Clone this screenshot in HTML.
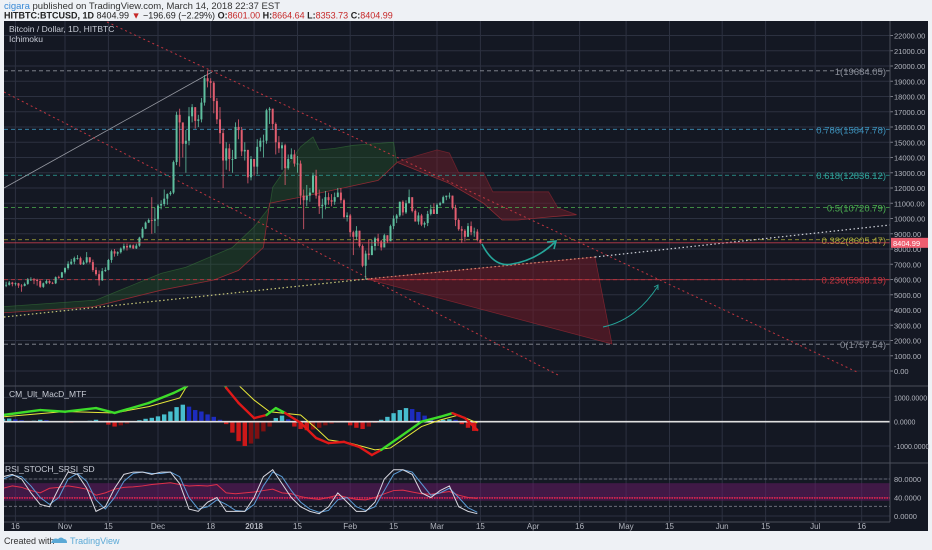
<!DOCTYPE html>
<html><head><meta charset="utf-8"><style>
html,body{margin:0;padding:0;background:#eef1f5;}
svg{display:block;font-family:"Liberation Sans",sans-serif;}
</style></head><body>
<svg id="c" width="932" height="550" viewBox="0 0 932 550" xmlns="http://www.w3.org/2000/svg">
<rect x="0" y="0" width="932" height="550" fill="#eef1f5"/>
<text x="4" y="9" font-size="9.5" fill="#333"><tspan fill="#3a8ad6">cigara</tspan> published on TradingView.com, March 14, 2018 22:37 EST</text>
<text x="4" y="18.5" font-size="9" fill="#222" font-weight="bold">HITBTC:BTCUSD, 1D <tspan font-weight="normal">8404.99</tspan> <tspan fill="#c62828">▼</tspan> <tspan font-weight="normal">−196.69 (−2.29%)</tspan> O:<tspan fill="#c62828" font-weight="normal">8601.00</tspan> H:<tspan fill="#c62828" font-weight="normal">8664.64</tspan> L:<tspan fill="#c62828" font-weight="normal">8353.73</tspan> C:<tspan fill="#c62828" font-weight="normal">8404.99</tspan></text>
<rect x="4" y="21" width="924" height="510" fill="#141823"/>
<g id="grid"></g>
<g id="main"></g>
<g id="macd"></g>
<g id="rsi"></g>
<g id="axes"></g>
<text x="9" y="32" font-size="8.5" fill="#c8ccd6">Bitcoin / Dollar, 1D, HITBTC</text>
<text x="9" y="42" font-size="8.5" fill="#c8ccd6">Ichimoku</text>
<text x="9" y="397" font-size="8.5" fill="#c8ccd6">CM_Ult_MacD_MTF</text>
<text x="5" y="472" font-size="8.5" fill="#c8ccd6">RSI_STOCH_SRSI_SD</text>
<text x="4" y="544" font-size="9" fill="#333">Created with</text>
<g><path d="M51 543 q2 -6 7 -4 q3 -3 6 0 q3 0 3 4 z" fill="#5aa9d6"/><text x="70" y="544" font-size="9" fill="#5aa9d6">TradingView</text></g>
</svg>
<script>
// ---------- DATA ----------
const firstDay = -19; // Oct 13, 2017 relative to Nov 1
const closes = [5650,5800,5700,5750,5600,5580,5710,6000,6000,5980,5900,5520,5750,5900,5780,5750,6150,6130,6470,
6750,7030,7170,7400,7400,7000,7120,7460,7140,6620,6350,5950,6550,6630,7280,7850,7700,7790,8030,8200,8100,8240,8040,8220,8750,9330,9730,9900,9850,9950,
10850,10950,11300,11600,11700,13700,16800,16300,14900,15100,16700,17300,16400,16500,17600,19200,19000,18900,17700,16500,15600,13800,14600,13900,13900,16000,15800,14400,14500,12700,13900,
13400,14700,15100,15100,17100,17200,16200,15000,14600,14800,13300,13900,14200,13600,13600,11500,11200,11500,11700,12800,11500,10800,10900,11400,11200,11100,11400,11700,11200,10100,10200,
9100,8800,9200,8200,6900,7700,7600,8200,8700,8500,8100,8900,8500,9500,10000,10200,11100,10400,11000,11400,10500,9800,10200,9600,9700,10300,10600,10300,
10900,11000,11400,11500,11500,10700,9900,9300,9200,8800,9500,9100,9140,8601,8405];
const highs = [5850,5900,5850,5800,5780,5700,5800,6100,6150,6100,6050,5950,5800,6000,5950,5850,6200,6250,6500,
6800,7200,7350,7500,7600,7500,7250,7800,7450,7300,6800,6600,6750,6800,7350,7950,8000,7850,8100,8350,8350,8300,8300,8350,8800,9450,9800,10000,11400,10700,
10950,11200,11900,11650,11800,13800,17000,17200,16300,15800,17300,17500,17300,16800,17900,19400,19700,19200,19000,17900,17300,15900,15000,14900,14500,16300,16500,16000,15000,14500,14100,
13900,15200,15300,15500,17200,17300,17200,16300,15400,15000,14900,14200,14600,14500,14100,13800,11900,12200,12000,13000,13200,11900,11300,11800,11700,11600,11700,12000,12000,11300,10400,
10300,9200,9500,9200,8300,7900,8600,8600,8800,9000,8600,9000,8900,9600,10200,10300,11100,11200,11200,11900,11300,10600,10400,10300,9800,10500,10900,11000,
11000,11100,11500,11500,11700,11500,10900,10000,9500,9300,9700,9800,9400,9300,8665];
const lows = [5500,5600,5550,5600,5450,5200,5550,5650,5900,5700,5600,5450,5450,5700,5700,5700,5700,6050,6100,
6380,6650,6950,7000,7300,6950,6950,7050,7050,6500,6250,5600,5900,6500,6600,7100,7500,7550,7700,7900,7900,8050,8000,8000,8150,8700,9300,9700,9000,9050,
9500,10600,10800,10900,11500,11600,13500,13400,14000,13000,14800,16300,15900,16000,16300,17400,18600,17900,16900,16200,14900,12000,13200,13100,13000,13900,15200,14100,13800,12300,12500,
12800,12900,14400,14000,14900,16200,15800,14200,14300,13200,12200,13200,13900,13400,13000,10900,9300,10800,11100,11700,11300,10300,10000,10600,10900,10800,10900,11400,11000,10000,9800,
8800,7600,8600,8100,6800,6000,7300,7600,7900,8200,7900,8100,8400,8600,9300,9700,10100,10200,10300,11000,10400,9800,9600,9500,9400,9500,10200,10300,
10300,10800,11000,11200,11300,10600,9500,9200,8400,8500,8800,8900,8800,8500,8354];

const cloudGreenUpDays = [-21,10,31,39,54,61,66,67,76,80,82,87,93,106,107];
const cloudGreenUpVals = [4200,4650,6400,6800,8100,9450,10750,12050,14700,15350,14500,14600,14800,15000,13650];
const cloudGreenLoDays = [-21,9,31,48,56,64,66,76,101,107];
const cloudGreenLoVals = [3800,4200,5300,5970,6600,8100,11000,11400,12500,13650];
const cloudRedUpDays = [107,114,120,124,127,135,138,156,159,165];
const cloudRedUpVals = [13700,14150,14500,14300,13000,13000,11750,11750,10700,10250];
const cloudRedLoDays = [107,124,135,141,146,156,165];
const cloudRedLoVals = [13700,12300,11000,9900,9900,10100,10250];

const fibRatios = ["1","0.786","0.618","0.5","0.382","0.236","0"];
const fibPrices = [19684.05,15847.78,12836.12,10720.79,8605.47,5988.19,1757.54];
const fibColors = ["#8a8e99","#3d8fb8","#2fa39a","#4caf50","#a8a83a","#c0353f","#8a8e99"];

const priceTicks = [0,1000,2000,3000,4000,5000,6000,7000,8000,9000,10000,11000,12000,13000,14000,15000,16000,17000,18000,19000,20000,21000,22000];
const timeTickDays = [-16,0,14,30,47,61,75,92,106,120,134,151,166,181,195,212,226,242,257];
const timeTickLabels = ["16","Nov","15","Dec","18","2018","15","Feb","15","Mar","15","Apr","16","May","15","Jun","15","Jul","16"];

const macdDays = [-20,-8,0,10,16,27,35,39,44,47,52,56,61,65,68,71,76,81,85,90,95,99,102,108,115,121,125,129,133];
const macdVals = [275,480,410,560,360,770,1180,1430,2600,2800,1390,770,150,275,560,360,-50,-670,-880,-830,-1040,-1370,-1160,-630,0,200,350,150,-340];
const signalDays = [-20,0,16,27,37,39,48,56,61,66,76,81,85,92,100,105,115,121,127,133];
const signalVals = [200,420,360,620,975,1400,2200,1500,890,410,275,-270,-750,-880,-1160,-1080,-200,70,275,-50];
const histStart = -20, histStep = 2;
const histVals = [120,130,100,60,20,40,80,60,30,20,-20,-40,-20,-10,40,80,20,-120,-200,-150,-80,20,60,120,160,220,300,420,600,700,620,480,420,300,200,80,-100,-450,-800,-1000,-900,-700,-400,-200,150,250,100,-200,-300,-350,-320,-250,-150,-80,-40,30,-150,-250,-300,-200,-50,80,200,350,480,560,520,400,250,120,40,80,100,80,-100,-250,-380];
const macdTicks = [1000,0,-1000];
const macdTickLabels = ["1000.0000","0.0000","-1000.0000"];

const oscStart = -20, oscStep = 3;
const stochK = [85,90,80,50,25,20,60,95,90,60,10,20,60,90,95,95,90,95,95,70,15,10,30,40,10,10,10,40,85,100,70,40,20,10,5,20,50,30,10,10,30,80,100,100,90,50,40,55,65,20,10,5];
const stochD = [80,88,85,65,40,25,40,80,92,75,35,15,40,75,92,95,92,92,95,85,40,15,20,35,25,12,10,25,65,95,85,55,30,15,8,12,35,40,20,12,20,55,90,100,95,70,45,50,60,40,18,8];
const rsiVals = [60,65,62,55,50,60,62,65,62,58,45,50,58,62,63,65,68,70,72,68,65,66,65,68,50,48,50,52,55,58,50,48,42,38,36,40,45,40,36,35,40,48,55,56,52,48,47,50,53,45,40,38];
const oscTicks = [80,40,0];
const oscTickLabels = ["80.0000","40.0000","0.0000"];

// ---------- SCALES ----------
const NS = "http://www.w3.org/2000/svg";
const X0 = 65, PXD = 3.1, LEFT = 4, AXX = 890, RIGHT = 928;
function xd(d){return X0 + d*PXD;}
function yp(p){return 371 - p*0.01525;}
function ym(v){return 421.7 - v*0.0243;}
function yr(v){return 516 - v*0.4625;}
function mk(tag, attrs, parent){const e=document.createElementNS(NS,tag);for(const k in attrs)e.setAttribute(k,attrs[k]);parent.appendChild(e);return e;}
function interp(days, vals, d){
  if(d<=days[0])return vals[0];
  for(let i=1;i<days.length;i++){if(d<=days[i]){const t=(d-days[i-1])/(days[i]-days[i-1]);return vals[i-1]+t*(vals[i]-vals[i-1]);}}
  return vals[vals.length-1];
}
const svg = document.getElementById('c');
const grid = document.getElementById('grid');
const main = document.getElementById('main');
const macdG = document.getElementById('macd');
const rsiG = document.getElementById('rsi');
const axes = document.getElementById('axes');

const defs = mk('defs',{},svg);
const cpM = mk('clipPath',{id:'clipMain'},defs); mk('rect',{x:LEFT,y:21,width:AXX-LEFT,height:365},cpM);
const cpD = mk('clipPath',{id:'clipMacd'},defs); mk('rect',{x:LEFT,y:386,width:AXX-LEFT,height:77},cpD);
const cpR = mk('clipPath',{id:'clipRsi'},defs); mk('rect',{x:LEFT,y:463,width:AXX-LEFT,height:59},cpR);
main.setAttribute('clip-path','url(#clipMain)');
macdG.setAttribute('clip-path','url(#clipMacd)');
rsiG.setAttribute('clip-path','url(#clipRsi)');

// ---------- GRID ----------
timeTickDays.forEach((d,i)=>{
  const l = mk('line',{x1:xd(d),x2:xd(d),y1:21,y2:522,stroke:'#2c3140','stroke-width':1},grid);
  
  
  const t = mk('text',{x:xd(d),y:529,'font-size':8,fill:'#b2b5be','text-anchor':'middle'},axes);
  if(timeTickLabels[i]==='2018')t.setAttribute('font-weight','bold');
  t.textContent = timeTickLabels[i];
  
  
});
priceTicks.forEach(p=>{
  const l = mk('line',{x1:LEFT,x2:AXX,y1:yp(p),y2:yp(p),stroke:'#2c3140','stroke-width':1},grid);
  
  
  const tk = mk('line',{x1:AXX,x2:AXX+3,y1:yp(p),y2:yp(p),stroke:'#787b86'},axes);
  
  
  const t = mk('text',{x:AXX+4,y:yp(p)+3,'font-size':7.5,fill:'#b2b5be'},axes);
  t.textContent = p.toFixed(2);
  
  
});
macdTicks.forEach((v,i)=>{
  const l = mk('line',{x1:LEFT,x2:AXX,y1:ym(v),y2:ym(v),stroke:'#2c3140'},grid);
  
  
  const t = mk('text',{x:AXX+4,y:ym(v)+3,'font-size':7,fill:'#b2b5be'},axes);
  t.textContent = macdTickLabels[i];
  
  
});
oscTicks.forEach((v,i)=>{
  const l = mk('line',{x1:LEFT,x2:AXX,y1:yr(v),y2:yr(v),stroke:'#2c3140'},grid);
  
  
  const t = mk('text',{x:AXX+4,y:yr(v)+3,'font-size':7.5,fill:'#b2b5be'},axes);
  t.textContent = oscTickLabels[i];
  
  
});
[[LEFT,386,RIGHT,386],[LEFT,463,RIGHT,463],[LEFT,522,AXX,522],[AXX,21,AXX,522]].forEach(s=>{
  const l = mk('line',{x1:s[0],y1:s[1],x2:s[2],y2:s[3],stroke:'#4a4e5a','stroke-width':1},axes);
  
  
});

// ---------- MAIN PANE ----------
function cloud(upD,upV,loD,loV,fill,stroke,name){
  let pts = upD.map((d,i)=>xd(d)+','+yp(upV[i]));
  for(let i=loD.length-1;i>=0;i--)pts.push(xd(loD[i])+','+yp(loV[i]));
  const p = mk('polygon',{points:pts.join(' '),fill:fill,stroke:'none'},main);
  
  
  const a = mk('polyline',{points:upD.map((d,i)=>xd(d)+','+yp(upV[i])).join(' '),fill:'none',stroke:stroke,'stroke-width':0.8},main);
  
  
  const b = mk('polyline',{points:loD.map((d,i)=>xd(d)+','+yp(loV[i])).join(' '),fill:'none',stroke:'#8e2a33','stroke-width':0.8},main);
  
  
}
cloud(cloudGreenUpDays,cloudGreenUpVals,cloudGreenLoDays,cloudGreenLoVals,'rgba(40,100,45,0.32)','rgba(60,130,60,0.5)','ichimoku-cloud-green');
cloud(cloudRedUpDays,cloudRedUpVals,cloudRedLoDays,cloudRedLoVals,'rgba(120,30,42,0.45)','rgba(150,40,50,0.6)','ichimoku-cloud-red');

let tri = mk('polygon',{points:'367,279 595,257 612,344',fill:'rgba(115,28,40,0.55)',stroke:'rgba(170,45,55,0.6)','stroke-width':0.7},main);



fibPrices.forEach((p,i)=>{
  const l = mk('line',{x1:LEFT,x2:AXX,y1:yp(p),y2:yp(p),stroke:fibColors[i],'stroke-width':0.8,'stroke-dasharray':'4,3'},main);
  
  
  const t = mk('text',{x:AXX-4,y:yp(p)+4,'font-size':9.5,fill:fibColors[i],'text-anchor':'end'},main);
  t.textContent = fibRatios[i]+'('+p.toFixed(2)+')';
  
  
});
let r236 = mk('line',{x1:367,x2:AXX,y1:yp(5988.19),y2:yp(5988.19),stroke:'rgba(190,50,60,0.7)','stroke-width':0.8},main);



const tl = [
 ['4,188 212,72','#9598a1','none',0.8,'uptrend-line'],
 ['107,22 857,372','#c0353f','2,3',1,'upper-channel-line'],
 ['4,92 560,376','#c0353f','2,3',1,'lower-channel-line'],
 ['4,317 367,279','#c9c97a','1.5,2.5',1.2,'support-trend-line-left'],
 ['367,279 595,257','#d88a70','1.5,2.5',1.2,'support-trend-line-mid'],
 ['595,257 890,225','#d1d4dc','1.5,2.5',1.2,'support-trend-line-right']
];
tl.forEach(t=>{
  const l = mk('polyline',{points:t[0],fill:'none',stroke:t[1],'stroke-dasharray':t[2],'stroke-width':t[3]},main);
  
  
});

closes.forEach((c,i)=>{
  const d = firstDay + i;
  const o = i===0 ? 5600 : closes[i-1];
  const up = c>=o;
  const col = up ? '#5fbf9f' : '#e25d6f';
  const x = xd(d);
  const w = mk('line',{x1:x,x2:x,y1:yp(highs[i]),y2:yp(lows[i]),stroke:col,'stroke-width':0.8},main);
  
  
  const top = yp(Math.max(o,c)), bot = yp(Math.min(o,c));
  const b = mk('rect',{x:x-1,y:top,width:2,height:Math.max(0.8,bot-top),fill:col},main);
  
  
});

const lastClose = closes[closes.length-1];
let pl = mk('line',{x1:LEFT,x2:AXX,y1:yp(lastClose),y2:yp(lastClose),stroke:'rgba(230,70,85,0.8)','stroke-width':0.8},main);


let tag = mk('rect',{x:AXX+1,y:yp(lastClose)-5,width:37,height:10,fill:'#ef5e70'},axes);


let tagT = mk('text',{x:AXX+3,y:yp(lastClose)+3,'font-size':7.5,fill:'#fff'},axes);
tagT.textContent = lastClose.toFixed(2).replace('8405.00','8404.99');



let ar1 = mk('path',{d:'M482 244 Q494 268 512 264 Q537 260 556 241',fill:'none',stroke:'#26a69a','stroke-width':1.6},main);


let ah1 = mk('path',{d:'M547 242 L556 241 L554 249',fill:'none',stroke:'#26a69a','stroke-width':1.6},main);


let ar2 = mk('path',{d:'M603 327 Q636 320 658 286',fill:'none',stroke:'#26a69a','stroke-width':0.9},main);


let ah2 = mk('path',{d:'M654 287 L658 285 L658 290',fill:'none',stroke:'#26a69a','stroke-width':0.9},main);



// ---------- MACD PANE ----------
histVals.forEach((v,i)=>{
  const d = histStart + i*histStep;
  const prev = i>0 ? histVals[i-1] : v;
  let col;
  if(v>=0) col = v>=prev ? '#4dd0e1' : '#1e2fd0';
  else col = v<=prev ? '#e01818' : '#8b1010';
  const y0 = ym(0), y1 = ym(v);
  const r = mk('rect',{x:xd(d)-2.2,y:Math.min(y0,y1),width:4.4,height:Math.max(0.5,Math.abs(y1-y0)),fill:col,opacity:0.9},macdG);
  
  
});
let zl = mk('line',{x1:LEFT,x2:AXX,y1:ym(0),y2:ym(0),stroke:'#e0e0e0','stroke-width':1.6},macdG);


let sig = mk('polyline',{points:signalDays.map((d,i)=>xd(d)+','+ym(signalVals[i])).join(' '),fill:'none',stroke:'#e8e83a','stroke-width':1},macdG);


for(let i=1;i<macdDays.length;i++){
  const mid = (macdDays[i]+macdDays[i-1])/2;
  const mv = (macdVals[i]+macdVals[i-1])/2;
  const col = mv >= interp(signalDays,signalVals,mid) ? '#3ddc2a' : '#e01818';
  const s = mk('line',{x1:xd(macdDays[i-1]),y1:ym(macdVals[i-1]),x2:xd(macdDays[i]),y2:ym(macdVals[i]),stroke:col,'stroke-width':2.4,'stroke-linecap':'round'},macdG);
  
  
}

// ---------- RSI PANE ----------
let band = mk('rect',{x:LEFT,y:yr(71),width:AXX-LEFT,height:yr(33)-yr(71),fill:'rgba(100,28,100,0.55)'},rsiG);


[[80,'#787b86','3,2'],[21,'#787b86','3,2'],[39,'#e0204a','1.5,1']].forEach(h=>{
  const l = mk('line',{x1:LEFT,x2:AXX,y1:yr(h[0]),y2:yr(h[0]),stroke:h[1],'stroke-dasharray':h[2],'stroke-width':h[0]===39?1.6:0.8},rsiG);
  
  
});
function oscLine(vals,col,name,w){
  const p = mk('polyline',{points:vals.map((v,i)=>xd(oscStart+i*oscStep)+','+yr(v)).join(' '),fill:'none',stroke:col,'stroke-width':w},rsiG);
  
  
}
oscLine(rsiVals,'#e0304a','rsi-line',1);
oscLine(stochD,'#5b9bd5','stoch-d-line',1);
oscLine(stochK,'#d8d8e0','stoch-k-line',1);
</script>
</body></html>
